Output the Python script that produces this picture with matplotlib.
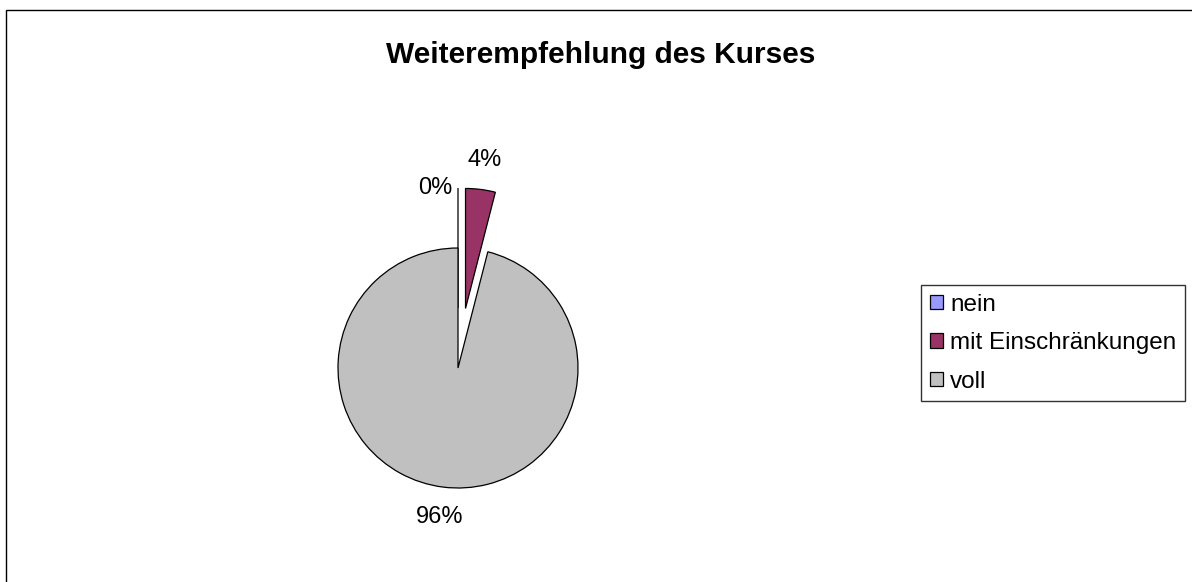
import matplotlib

matplotlib.use("Agg")
import matplotlib.pyplot as plt
from matplotlib.patches import Rectangle

# data
categories = ["nein", "mit Einschränkungen", "voll"]
shares = [0, 4, 96]
colors = ["#9999FF", "#993366", "#C0C0C0"]
explode = [0.5, 0.5, 0.0]
title = "Weiterempfehlung des Kurses"

plt.rcParams["font.family"] = ["Liberation Sans", "DejaVu Sans"]

W, H = 1192, 582
fig = plt.figure(figsize=(W / 100, H / 100), dpi=100)

# outer chart frame (right/bottom edges fall outside the image)
fig.patches.append(Rectangle((6 / W, -0.1), 1.2, (H - 10) / H + 0.1,
                             transform=fig.transFigure, fill=False,
                             edgecolor="black", linewidth=1.0))

# pie axes: centre at (458, 368) px, radius 120 px
cx, cy, r = 458, H - 368, 120
half = 250
ax = fig.add_axes([(cx - half) / W, (cy - half) / H, 2 * half / W, 2 * half / H])

wedges, texts, autotexts = ax.pie(
    shares, colors=colors, explode=explode, startangle=90, counterclock=False,
    autopct=lambda p: f"{p:.0f}%", pctdistance=1.25,
    wedgeprops=dict(edgecolor="black", linewidth=0.9),
    textprops=dict(fontsize=17),
)
ax.set_xlim(-half / r, half / r)
ax.set_ylim(-half / r, half / r)
ax.axis("off")

# Excel puts the 0% label left of the exploded zero wedge
tx, ty = autotexts[0].get_position()
autotexts[0].set_position((tx - 0.05, ty - 0.25))
autotexts[0].set_ha("right")

fig.text(601 / W, 1 - 55 / H, title, ha="center", va="center",
         fontsize=21.5, fontweight="bold")

fig.legend(wedges, categories, loc="upper left",
           bbox_to_anchor=(921 / W, 1 - 285 / H), fontsize=17.5,
           frameon=True, fancybox=False, edgecolor="black",
           handlelength=0.55, handleheight=0.55, handletextpad=0.3,
           labelspacing=0.68, borderpad=0.35, borderaxespad=0)

fig.savefig("out.png", dpi=100)
plt.close(fig)
